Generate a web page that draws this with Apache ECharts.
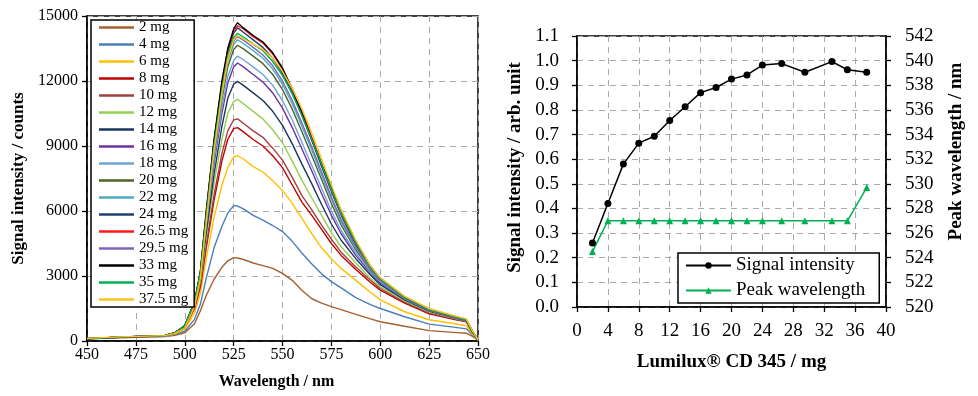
<!DOCTYPE html>
<html><head><meta charset="utf-8">
<script src="https://cdn.jsdelivr.net/npm/echarts@6/dist/echarts.min.js"></script>
<style>html,body{margin:0;padding:0;background:#fff}#c{width:978px;height:396px}</style>
</head><body><div id="c"></div>
<script>
// ---------- Left chart: emission spectra ----------
const wavelengths = [450,466,490,495,500,505,508,511,515,519,522,525,527,530,535,540,545,550,555,560,565,570,575,580,587.5,595,600,612.5,625,637.5,644,647,650];
const spec2mg  = [100,150,200,260,380,800,1400,2100,2850,3400,3700,3850,3830,3760,3600,3480,3350,3120,2800,2330,1950,1750,1590,1450,1230,1020,890,680,480,400,360,220,40];
const spec4mg  = [100,160,220,300,450,1000,1700,2900,4300,5300,5900,6250,6230,6100,5800,5580,5330,5050,4600,4050,3550,3100,2740,2450,2000,1680,1500,1120,780,640,560,300,40];
const spec6mg  = [100,170,230,330,550,1300,2200,3800,5700,7200,8000,8500,8550,8400,8050,7800,7400,6950,6350,5650,4950,4300,3800,3350,2800,2250,1900,1350,980,810,700,350,50];
const spec8mg  = [100,170,240,350,620,1500,2500,4300,6500,8300,9300,9800,9850,9650,9300,9000,8550,8000,7200,6400,5800,5150,4500,3950,3300,2700,2350,1750,1250,1000,880,420,50];
const spec10mg = [100,170,240,360,640,1550,2600,4450,6750,8650,9700,10200,10250,10050,9700,9400,8900,8350,7550,6700,6050,5350,4700,4100,3420,2800,2430,1800,1300,1030,900,430,50];
const spec12mg = [100,170,250,370,680,1650,2800,4800,7300,9300,10500,11050,11150,10950,10600,10250,9750,9150,8300,7400,6600,5800,5000,4350,3600,2900,2500,1850,1350,1060,920,440,50];
const spec14mg = [110,175,250,370,690,1700,2900,5000,7700,9900,11200,11850,11980,11800,11450,11100,10600,9950,9100,8150,7250,6300,5400,4650,3800,3050,2600,1900,1380,1080,930,450,50];
const spec16mg = [110,175,255,375,695,1750,3000,5300,8200,10500,11900,12650,12830,12650,12300,11950,11450,10750,9850,8850,7850,6800,5800,4950,3950,3150,2680,1930,1400,1090,940,450,50];
const spec18mg = [110,178,255,375,698,1770,3050,5400,8400,10750,12200,12950,13150,12980,12650,12300,11800,11100,10200,9150,8100,7050,6000,5100,4050,3200,2730,1950,1410,1100,950,450,50];
const spec20mg = [110,178,258,378,700,1780,3100,5600,8700,11150,12650,13450,13650,13480,13150,12800,12300,11600,10700,9650,8550,7450,6350,5350,4200,3280,2780,1970,1420,1110,960,460,50];
const spec22mg = [110,178,258,378,700,1790,3120,5700,8850,11350,12900,13700,13900,13730,13400,13050,12550,11850,10950,9900,8800,7650,6550,5500,4300,3320,2800,1980,1430,1110,960,460,50];
const spec24mg = [110,180,260,380,700,1800,3150,5900,9200,11800,13350,14200,14450,14250,13900,13550,13050,12350,11450,10400,9250,8050,6900,5800,4450,3380,2850,2000,1440,1120,970,460,50];
const spec26_5mg = [110,180,260,380,700,1800,3180,5950,9250,11900,13450,14300,14550,14400,14050,13750,13250,12550,11650,10600,9400,8200,7000,5900,4550,3420,2880,2020,1450,1130,980,470,50];
const spec29_5mg = [110,180,258,378,700,1790,3130,5750,8950,11450,13000,13850,14050,13880,13550,13200,12700,12000,11100,10050,8950,7800,6650,5600,4350,3350,2820,1990,1430,1110,960,460,50];
const spec33mg = [110,180,260,380,700,1800,3200,6000,9300,12000,13500,14400,14690,14450,14100,13800,13300,12600,11600,10500,9300,8150,7100,6000,4600,3450,2900,2030,1470,1150,1000,480,50];
const spec35mg = [110,180,260,380,700,1800,3150,5800,9050,11600,13150,14000,14200,14030,13700,13400,12900,12250,11400,10400,9300,8150,7000,5900,4550,3420,2880,2020,1460,1140,990,470,50];
const spec37_5mg = [120,190,250,350,600,1600,2900,5500,8800,11400,13000,13900,14100,13950,13700,13450,13050,12450,11650,10700,9600,8400,7200,6050,4650,3480,2920,2060,1500,1170,1020,500,50];

const spectraNames = ['2 mg','4 mg','6 mg','8 mg','10 mg','12 mg','14 mg','16 mg','18 mg','20 mg','22 mg','24 mg','26.5 mg','29.5 mg','33 mg','35 mg','37.5 mg'];
const spectra = [spec2mg,spec4mg,spec6mg,spec8mg,spec10mg,spec12mg,spec14mg,spec16mg,spec18mg,spec20mg,spec22mg,spec24mg,spec26_5mg,spec29_5mg,spec33mg,spec35mg,spec37_5mg];
const spectraColors = ['#a5602c','#4a7ebb','#ffc000','#c00000','#a3413e','#92d050','#17375e','#7030a0','#6fa3dc','#4f6228','#4bacc6','#1f3f75','#ff1a1a','#8064b4','#000000','#00b050','#ffc21a'];

// ---------- Right chart ----------
const amounts = [2,4,6,8,10,12,14,16,18,20,22,24,26.5,29.5,33,35,37.5];
const signalIntensity = [0.26,0.42,0.58,0.665,0.693,0.757,0.813,0.87,0.891,0.925,0.942,0.982,0.988,0.953,0.996,0.963,0.953];
const peakWavelength = [524.5,527,527,527,527,527,527,527,527,527,527,527,527,527,527,527,529.7];

const FONT = '"Liberation Serif","Times New Roman",serif';
const gridLine = {show:true, lineStyle:{color:'#ababab', type:[6,5], width:1}};
const axisLineBlack = {show:true, onZero:false, lineStyle:{color:'#000', width:1.5}};
const tickBlack = {show:true, inside:false, length:5, lineStyle:{color:'#000', width:1.3}};

const chart = echarts.init(document.getElementById('c'), null, {renderer:'canvas'});

const series = spectra.map((arr, k) => ({
  name: spectraNames[k], type:'line', xAxisIndex:0, yAxisIndex:0,
  data: wavelengths.map((w,i)=>[w, arr[i]]),
  symbol:'none', smooth:false, color: spectraColors[k],
  lineStyle:{width:1.4, color: spectraColors[k]}
}));
series.push({
  name:'Signal intensity', type:'line', xAxisIndex:1, yAxisIndex:1,
  data: amounts.map((a,i)=>[a, signalIntensity[i]]),
  symbol:'circle', symbolSize:7, color:'#000',
  lineStyle:{width:1.5,color:'#000'}, itemStyle:{color:'#000'}
});
series.push({
  name:'Peak wavelength', type:'line', xAxisIndex:1, yAxisIndex:2,
  data: amounts.map((a,i)=>[a, peakWavelength[i]]),
  symbol:'triangle', symbolSize:7, color:'#00b050',
  lineStyle:{width:1.5,color:'#00b050'}, itemStyle:{color:'#00b050'}
});

chart.setOption({
  animation:false,
  backgroundColor:'#fff',
  textStyle:{fontFamily:FONT, color:'#000'},
  grid:[
    {left:87, top:16, width:391, height:325, show:true, borderColor:'#000', borderWidth:1.5, containLabel:false},
    {left:577, top:36, width:309, height:271, show:true, borderColor:'#000', borderWidth:1.5, containLabel:false}
  ],
  xAxis:[
    {type:'value', gridIndex:0, min:450, max:650, interval:25,
     axisLine:axisLineBlack, axisTick:tickBlack, splitLine:gridLine,
     axisLabel:{fontFamily:FONT, fontSize:16, color:'#000', margin:6},
     name:'Wavelength / nm', nameLocation:'middle', nameGap:33,
     nameTextStyle:{fontFamily:FONT, fontWeight:'bold', fontSize:16, color:'#000', padding:[0,12,0,0]}},
    {type:'value', gridIndex:1, min:0, max:40, interval:4,
     axisLine:axisLineBlack, axisTick:tickBlack, splitLine:gridLine,
     axisLabel:{fontFamily:FONT, fontSize:19, color:'#000', margin:15},
     name:'Lumilux® CD 345 / mg', nameLocation:'middle', nameGap:46,
     nameTextStyle:{fontFamily:FONT, fontWeight:'bold', fontSize:19, color:'#000'}}
  ],
  yAxis:[
    {type:'value', gridIndex:0, min:0, max:15000, interval:3000,
     axisLine:axisLineBlack, axisTick:tickBlack, splitLine:gridLine,
     axisLabel:{fontFamily:FONT, fontSize:16, color:'#000', margin:9, formatter:v=>String(v)},
     name:'Signal intensity / counts', nameLocation:'middle', nameGap:60, nameRotate:90,
     nameTextStyle:{fontFamily:FONT, fontWeight:'bold', fontSize:17, color:'#000'}},
    {type:'value', gridIndex:1, min:0, max:1.1, interval:0.1, position:'left',
     axisLine:axisLineBlack, axisTick:tickBlack, splitLine:gridLine,
     axisLabel:{fontFamily:FONT, fontSize:19, color:'#000', margin:18, formatter:v=>v.toFixed(1)},
     name:'Signal intensity / arb. unit', nameLocation:'middle', nameGap:52, nameRotate:90,
     nameTextStyle:{fontFamily:FONT, fontWeight:'bold', fontSize:19, color:'#000', padding:[0,0,0,8]}},
    {type:'value', gridIndex:1, min:520, max:542, interval:2, position:'right',
     axisLine:axisLineBlack, axisTick:tickBlack, splitLine:{show:false},
     axisLabel:{fontFamily:FONT, fontSize:19, color:'#000', margin:19},
     name:'Peak wavelength / nm', nameLocation:'middle', nameGap:61, nameRotate:90,
     nameTextStyle:{fontFamily:FONT, fontWeight:'bold', fontSize:19, color:'#000', padding:[0,0,0,40]}}
  ],
  legend:[
    {data:spectraNames, orient:'vertical', left:91, top:20, padding:[0,6,0,8],
     itemWidth:35, itemHeight:2.5, itemGap:2, backgroundColor:'#fff',
     borderColor:'#000', borderWidth:1.5, icon:'rect',
     itemStyle:{borderWidth:0},
     textStyle:{fontFamily:FONT, fontSize:15, color:'#000', lineHeight:14}},
    {data:['Signal intensity','Peak wavelength'], orient:'vertical', left:678, top:253, padding:[2,14,2,7],
     itemWidth:45, itemHeight:8, itemGap:4, backgroundColor:'#fff',
     borderColor:'#000', borderWidth:1.5,
     textStyle:{fontFamily:FONT, fontSize:19, color:'#000', lineHeight:21}}
  ],
  series: series
});
</script></body></html>
